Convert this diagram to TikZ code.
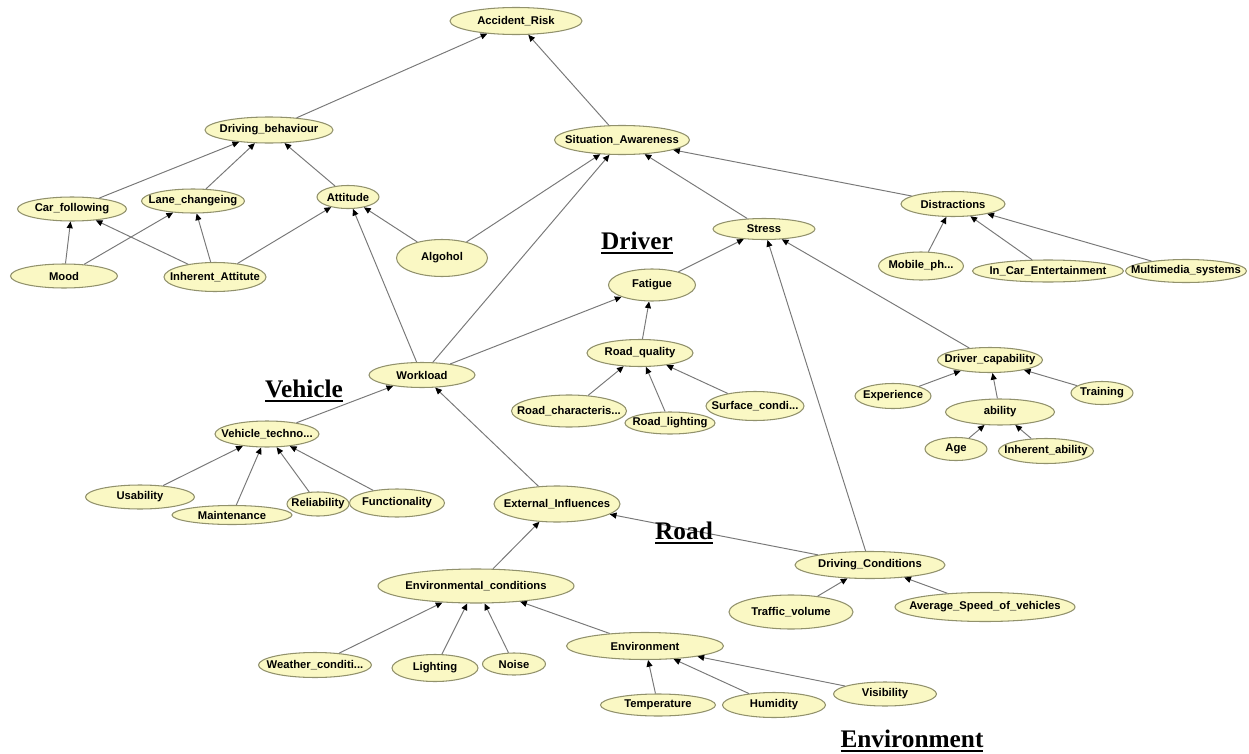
\documentclass[tikz,border=0pt]{standalone}
\usepackage{fontspec}
\setmainfont{Liberation Serif}
\setsansfont{Liberation Sans}
\usetikzlibrary{shapes.geometric,arrows.meta}
\definecolor{nodefill}{RGB}{250,248,196}
\definecolor{nodeline}{RGB}{145,145,108}
\definecolor{edgegray}{RGB}{120,120,120}
% text of a variable, kept from widening its ellipse
\newcommand{\vname}[1]{\makebox[0pt]{#1}}
% bold group title with a heavy underline
\newcommand{\grouptitle}[1]{\setbox0\hbox{#1}\rlap{\copy0}\rule[-2.4pt]{\wd0}{1.2pt}}

\begin{document}
\begin{tikzpicture}[x=0.02cm,y=-0.02cm,
    var/.style 2 args={ellipse,draw=nodeline,fill=nodefill,line width=0.6pt,inner sep=0pt,
      minimum width=#1*0.02cm,minimum height=#2*0.02cm,
      font=\sffamily\bfseries\fontsize{6.4}{7}\selectfont},
    dep/.style={draw=edgegray,line width=0.55pt,-{Triangle[length=3.8pt,width=3.4pt,black]}},
    region/.style={font=\rmfamily\bfseries\fontsize{14.4}{16}\selectfont}]
  \useasboundingbox (0,0) rectangle (1249,754);

  % top of the network
  \node[var={132}{27}] (risk) at (516,21) {\vname{Accident\_Risk}};
  \node[var={128}{26}] (behav) at (269,130) {\vname{Driving\_behaviour}};
  \node[var={135}{29}] (aware) at (622,140) {\vname{Situation\_Awareness}};

  % driver
  \node[var={109}{24}] (carfol) at (72,209) {\vname{Car\_following}};
  \node[var={103}{24}] (lane) at (193,201) {\vname{Lane\_changeing}};
  \node[var={62}{23}] (att) at (348,197) {\vname{Attitude}};
  \node[var={91}{37}] (alc) at (442,258) {\vname{Algohol}};
  \node[var={107}{24}] (mood) at (64,276) {\vname{Mood}};
  \node[var={102}{29}] (inhatt) at (215,277) {\vname{Inherent\_Attitute}};
  \node[var={102}{21}] (stress) at (764,229) {\vname{Stress}};
  \node[var={87}{32}] (fatigue) at (652,285) {\vname{Fatigue}};
  \node[var={104}{25}] (distr) at (953,204) {\vname{Distractions}};
  \node[var={85}{28}] (mobile) at (921,266) {\vname{Mobile\_ph...}};
  \node[var={151}{22}] (incar) at (1048,271) {\vname{In\_Car\_Entertainment}};
  \node[var={121}{23}] (multi) at (1186,271) {\vname{Multimedia\_systems}};
  \node[var={105}{25}] (drvcap) at (990,360) {\vname{Driver\_capability}};
  \node[var={76}{25}] (exper) at (893,396) {\vname{Experience}};
  \node[var={62}{23}] (train) at (1102,393) {\vname{Training}};
  \node[var={109}{26}] (abil) at (1000,412) {\vname{ability}};
  \node[var={62}{23}] (age) at (956,449) {\vname{Age}};
  \node[var={95}{25}] (inhab) at (1046,451) {\vname{Inherent\_ability}};
  \node[var={106}{25}] (work) at (422,375) {\vname{Workload}};

  % road
  \node[var={106}{27}] (roadq) at (640,353) {\vname{Road\_quality}};
  \node[var={115}{32}] (roadch) at (569,411) {\vname{Road\_characteris...}};
  \node[var={90}{22}] (roadl) at (670,423) {\vname{Road\_lighting}};
  \node[var={98}{29}] (surf) at (755,406) {\vname{Surface\_condi...}};
  \node[var={126}{36}] (extinf) at (557,504) {\vname{External\_Influences}};
  \node[var={150}{27}] (drvcond) at (870,565) {\vname{Driving\_Conditions}};
  \node[var={124}{34}] (traffic) at (791,612) {\vname{Traffic\_volume}};
  \node[var={180}{29}] (avgspeed) at (985,607) {\vname{Average\_Speed\_of\_vehicles}};

  % vehicle
  \node[var={104}{26}] (vtech) at (267,434) {\vname{Vehicle\_techno...}};
  \node[var={109}{24}] (usab) at (140,497) {\vname{Usability}};
  \node[var={120}{19}] (maint) at (232,515) {\vname{Maintenance}};
  \node[var={62}{24}] (reliab) at (318,504) {\vname{Reliability}};
  \node[var={95}{28}] (func) at (397,503) {\vname{Functionality}};

  % environment
  \node[var={196}{34}] (envcond) at (476,586) {\vname{Environmental\_conditions}};
  \node[var={113}{25}] (weather) at (315,665) {\vname{Weather\_conditi...}};
  \node[var={86}{27}] (light) at (435,668) {\vname{Lighting}};
  \node[var={63}{22}] (noise) at (514,664) {\vname{Noise}};
  \node[var={157}{27}] (env) at (645,646) {\vname{Environment}};
  \node[var={115}{22}] (temp) at (658,705) {\vname{Temperature}};
  \node[var={103}{25}] (humid) at (774,705) {\vname{Humidity}};
  \node[var={103}{24}] (visib) at (885,694) {\vname{Visibility}};

  % links, child to parent
  \foreach \a/\b in {behav/risk, aware/risk, carfol/behav, lane/behav, att/behav,
      mood/carfol, inhatt/carfol, mood/lane, inhatt/lane, inhatt/att, alc/att, work/att,
      alc/aware, work/aware, stress/aware, distr/aware, fatigue/stress, drvcond/stress,
      drvcap/stress, mobile/distr, incar/distr, multi/distr, work/fatigue, roadq/fatigue,
      roadch/roadq, roadl/roadq, surf/roadq, exper/drvcap, abil/drvcap, train/drvcap,
      age/abil, inhab/abil, vtech/work, extinf/work, usab/vtech, maint/vtech,
      reliab/vtech, func/vtech, drvcond/extinf, envcond/extinf, traffic/drvcond,
      avgspeed/drvcond, weather/envcond, light/envcond, noise/envcond, env/envcond,
      temp/env, humid/env, visib/env}
    \draw[dep] (\a) -- (\b);

  % group titles
  \node[region] (driverlbl) at (637,243) {\grouptitle{Driver}};
  \node[region] (vehiclelbl) at (304,391) {\grouptitle{Vehicle}};
  \node[region] (roadlbl) at (684,533) {\grouptitle{Road}};
  \node[region] (envlbl) at (912,741) {\grouptitle{Environment}};
\end{tikzpicture}
\end{document}
